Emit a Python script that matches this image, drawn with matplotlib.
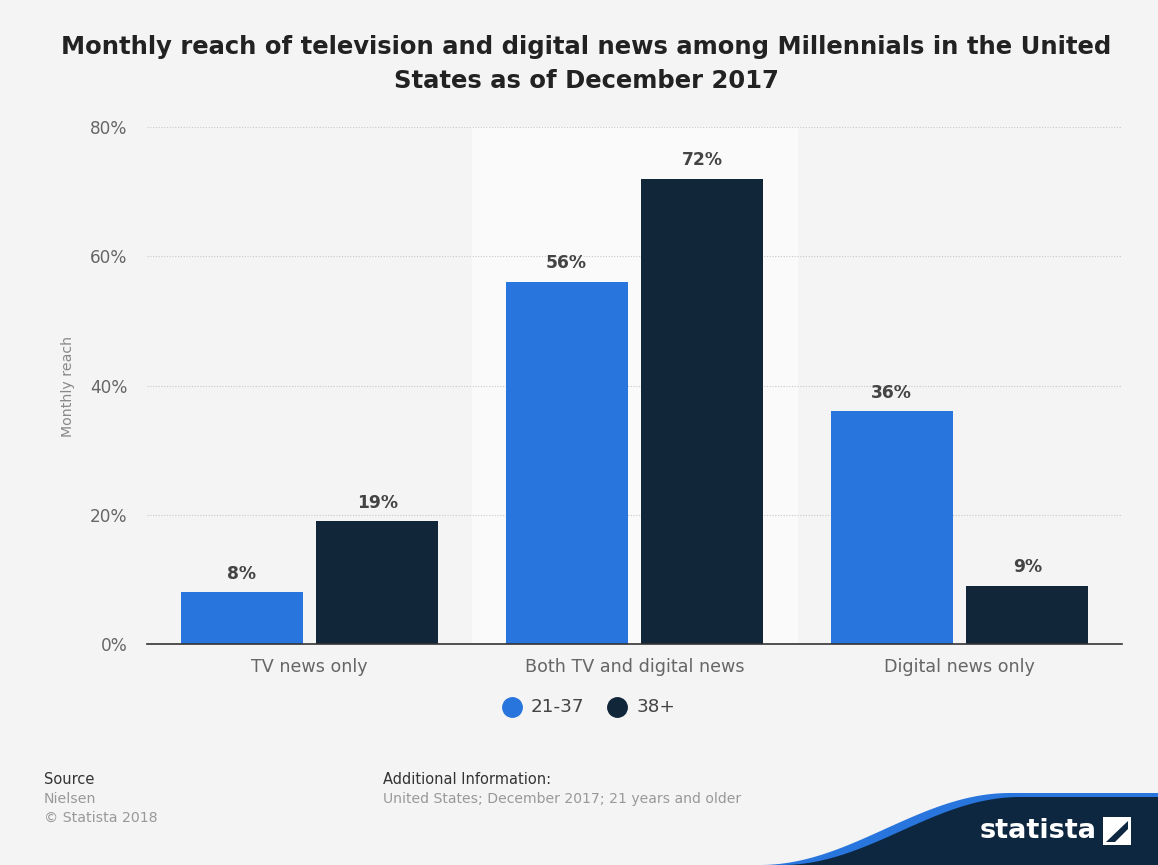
import matplotlib.pyplot as plt
import numpy as np
from matplotlib.patches import Polygon, Rectangle

# data
categories = ["TV news only", "Both TV and digital news", "Digital news only"]
series_names = ["21-37", "38+"]
values_young = [8, 56, 36]
values_old = [19, 72, 9]
yticks = [0, 20, 40, 60, 80]

BG = '#F4F4F4'
BLUE = '#2876DD'
NAVY = '#12263A'
LOGO = '#0E2741'

fig = plt.figure(figsize=(11.58, 8.65), dpi=100, facecolor=BG)
ax = fig.add_axes([147 / 1158, (865 - 644) / 865, 975 / 1158, 517 / 865])
ax.set_facecolor(BG)

x = np.arange(len(categories))
w = 0.375
off = 0.209

# highlighted middle group
ax.axvspan(0.5, 1.5, color='#FAFAFA', zorder=0)

b1 = ax.bar(x - off, values_young, w, color=BLUE, zorder=3)
b2 = ax.bar(x + off, values_old, w, color=NAVY, zorder=3)

for bars, vals in ((b1, values_young), (b2, values_old)):
    for rect, v in zip(bars, vals):
        ax.text(rect.get_x() + rect.get_width() / 2, v + 1.5, f"{v}%",
                ha='center', va='bottom', fontsize=12.3, fontweight='bold', color='#444444')

ax.set_xlim(-0.5, 2.5)
ax.set_ylim(0, 80)
ax.set_yticks(yticks)
ax.set_yticklabels([f"{t}%" for t in yticks])
ax.set_xticks(x)
ax.set_xticklabels(categories)
ax.tick_params(axis='both', length=0, labelcolor='#666666')
ax.tick_params(axis='x', pad=10, labelsize=12.6)
ax.tick_params(axis='y', pad=14, labelsize=12.2)
ax.grid(axis='y', linestyle=(0, (1, 1.5)), color='#C8C8C8', linewidth=0.8, zorder=1)
for s in ('top', 'right', 'left'):
    ax.spines[s].set_visible(False)
ax.spines['bottom'].set_color('#333333')
ax.spines['bottom'].set_linewidth(1.2)
ax.spines['bottom'].set_zorder(4)

fig.text(68 / 1158, 1 - 386 / 865, "Monthly reach", rotation=90, ha='center', va='center',
         fontsize=10.2, color='#888888')

# title
fig.text(586 / 1158, 1 - 64 / 865,
         "Monthly reach of television and digital news among Millennials in the United\nStates as of December 2017",
         ha='center', va='center', fontsize=17.5, fontweight='bold', color='#222222',
         linespacing=1.55)

# legend
ly = 1 - 707 / 865
fig.lines.append(plt.Line2D([512 / 1158], [ly], marker='o', markersize=14, color=BLUE,
                            linestyle='none', transform=fig.transFigure))
fig.text(531 / 1158, ly, series_names[0], ha='left', va='center', fontsize=13.2, color='#444444')
fig.lines.append(plt.Line2D([617 / 1158], [ly], marker='o', markersize=14, color=NAVY,
                            linestyle='none', transform=fig.transFigure))
fig.text(637 / 1158, ly, series_names[1], ha='left', va='center', fontsize=13.2, color='#444444')

# footer
fig.text(44 / 1158, 1 - 780 / 865, "Source", ha='left', va='center', fontsize=10.5, color='#333333')
fig.text(44 / 1158, 1 - 799 / 865, "Nielsen", ha='left', va='center', fontsize=10.2, color='#999999')
fig.text(44 / 1158, 1 - 818 / 865, "© Statista 2018", ha='left', va='center', fontsize=10.2, color='#999999')
fig.text(383 / 1158, 1 - 780 / 865, "Additional Information:", ha='left', va='center', fontsize=10.5, color='#333333')
fig.text(383 / 1158, 1 - 799 / 865, "United States; December 2017; 21 years and older", ha='left',
         va='center', fontsize=10.1, color='#999999')

# statista wave logo
def wave(y_top, x_start, x_end):
    xs = np.linspace(x_start, 1158, 100)
    t = np.clip((xs - x_start) / (x_end - x_start), 0, 1)
    s = 0.5 - 0.5 * np.cos(np.pi * t)
    ys = 865 - (865 - y_top) * s
    return xs, ys

xs, ys = wave(793, 760, 1010)
pts = list(zip(xs / 1158, 1 - ys / 865)) + [(1, 0), (760 / 1158, 0)]
fig.patches.append(Polygon(pts, closed=True, facecolor=BLUE, edgecolor='none',
                           transform=fig.transFigure))
xs2, ys2 = wave(797, 782, 1020)
pts2 = list(zip(xs2 / 1158, 1 - ys2 / 865)) + [(1, 0), (782 / 1158, 0)]
fig.patches.append(Polygon(pts2, closed=True, facecolor=LOGO, edgecolor='none',
                           transform=fig.transFigure))
fig.text(1097 / 1158, 1 - 831 / 865, "statista", ha='right', va='center', fontsize=19.5,
         fontweight='bold', color='white', family='Liberation Sans Narrow')
fig.patches.append(Rectangle((1103 / 1158, 1 - 845 / 865), 28 / 1158, 28 / 865, facecolor='white',
                             edgecolor='none', transform=fig.transFigure))
fig.patches.append(Polygon([(1106 / 1158, 1 - 842 / 865), (1128 / 1158, 1 - 821 / 865),
                            (1128 / 1158, 1 - 829 / 865), (1115 / 1158, 1 - 842 / 865)],
                           closed=True, facecolor=LOGO, edgecolor='none', transform=fig.transFigure))

fig.savefig('out.png', dpi=100, facecolor=BG)
